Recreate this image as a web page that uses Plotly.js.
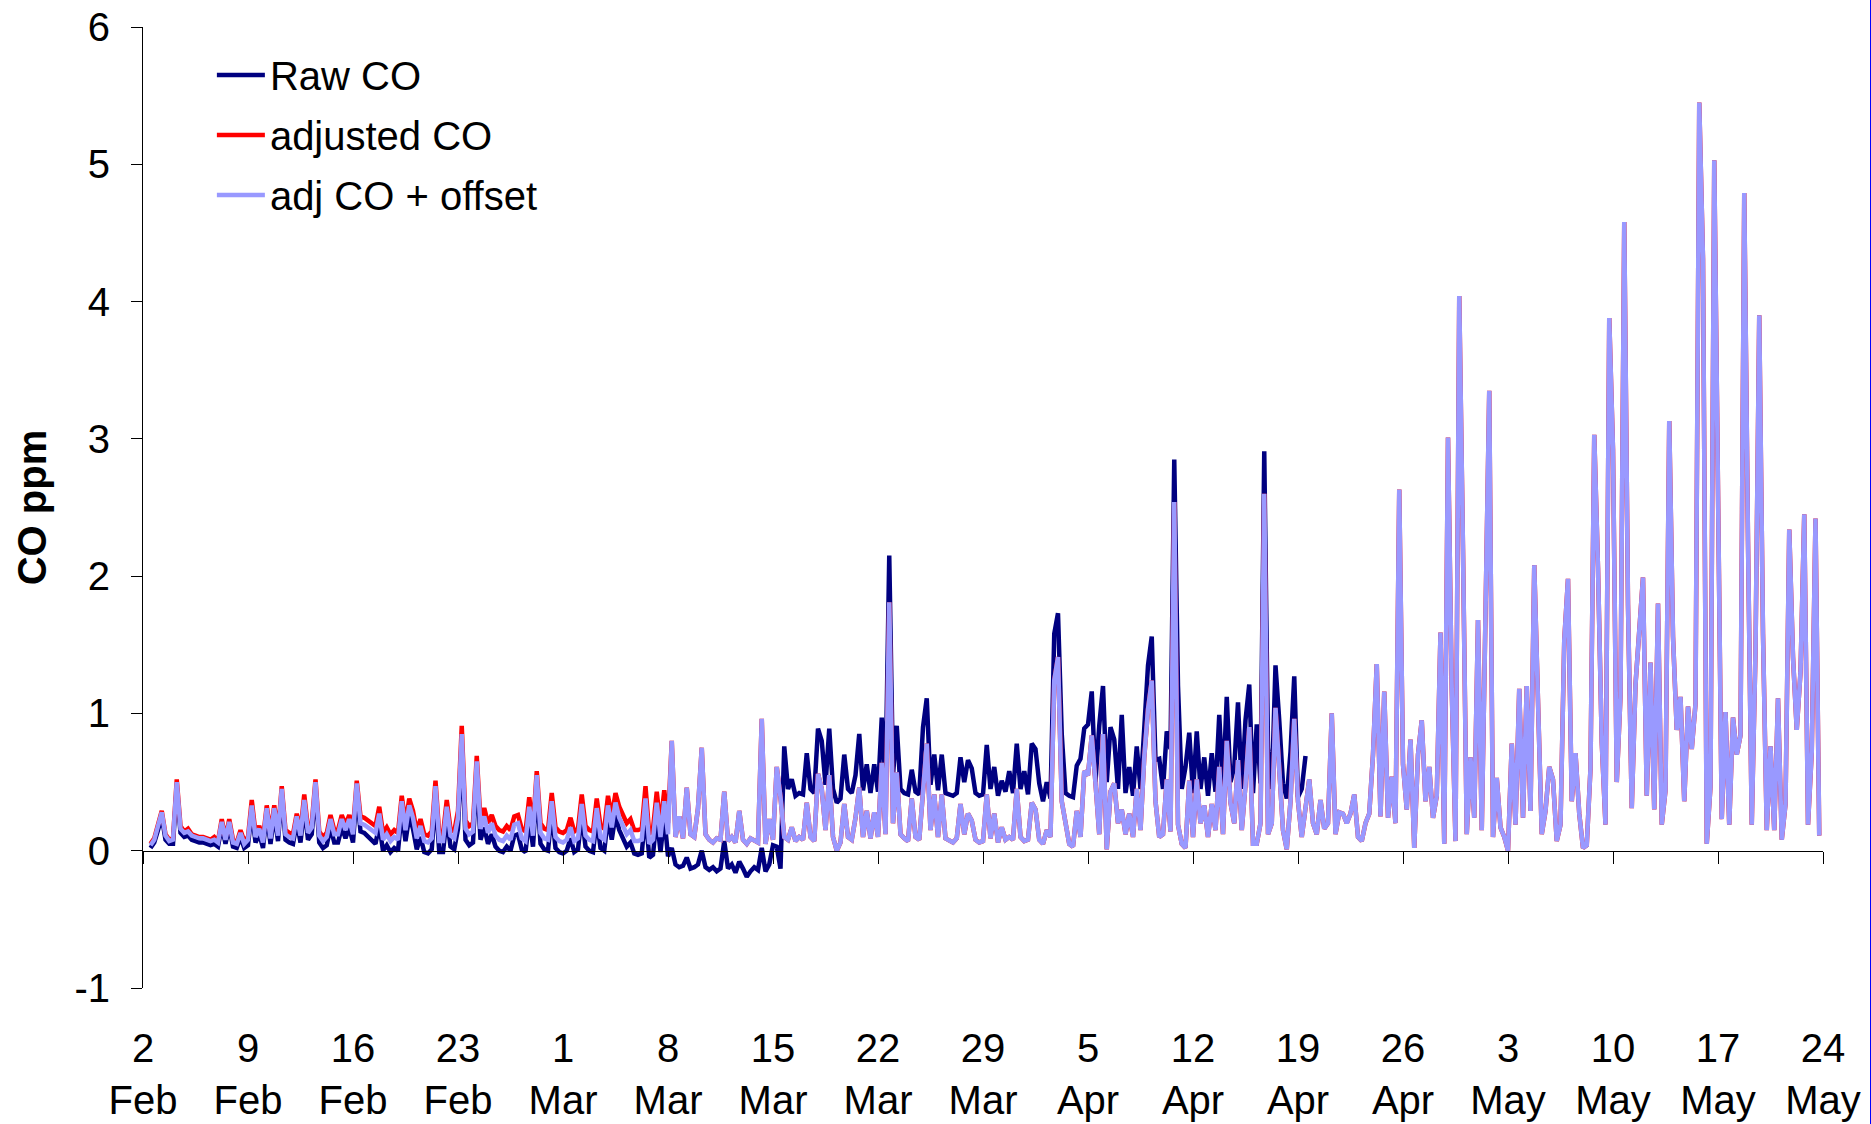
<!DOCTYPE html>
<html>
<head>
<meta charset="utf-8">
<script src="https://cdn.plot.ly/plotly-3.0.1.min.js"></script>
<style>
  html, body { margin: 0; padding: 0; background: #fff; }
  #wrap { position: relative; width: 1871px; height: 1124px; overflow: hidden; }
  #chart { position: absolute; left: 0; top: 0; width: 1871px; height: 1124px; }
  #edge { position: absolute; left: 1870px; top: 0; width: 1px; height: 1124px; background: #0000ff; }
</style>
</head>
<body>
<div id="wrap"><div id="chart"></div><div id="edge"></div></div>
<script>
// CO record, 2008, sampled every 6 hours. First sample: 2 Feb 12:00.
const startDate = Date.UTC(2008, 1, 2);
const firstSampleDay = 0.5;      // days after 2 Feb 00:00
const stepDays = 0.25;           // 6-hour step

// 2 Feb 12:00 - 8 Mar 00:00 : the three series are separate
const rawEarly = [
  0.02, 0.06,                 // 2 Feb
  0.15, 0.25, 0.08, 0.05,     // 3 Feb
  0.05, 0.46, 0.13, 0.10,
  0.11, 0.08, 0.07, 0.06,
  0.06, 0.05, 0.04, 0.05,
  0.03, 0.18, 0.05, 0.18,
  0.03, 0.02, 0.10, 0.02,
  0.04, 0.29, 0.06, 0.12,     // 9 Feb
  0.02, 0.27, 0.05, 0.27,
  0.07, 0.41, 0.08, 0.06,
  0.05, 0.21, 0.06, 0.32,
  0.08, 0.12, 0.45, 0.06,
  0.02, 0.04, 0.17, 0.06,
  0.06, 0.17, 0.09, 0.17,
  0.06, 0.43, 0.14, 0.13,     // 16 Feb
  0.10, 0.08, 0.05, 0.19,
  0.00, 0.04, -0.01, 0.02,
  0.00, 0.28, 0.07, 0.25,
  0.16, 0.01, 0.10, -0.01,
  -0.02, 0.01, 0.39, -0.01,
  -0.01, 0.24, 0.03, 0.01,
  0.16, 0.77, 0.08, 0.04,     // 23 Feb
  0.06, 0.57, 0.08, 0.17,
  0.05, 0.12, 0.03, 0.00,
  -0.01, 0.03, 0.00, 0.11,
  0.12, 0.01, -0.01, 0.24,
  0.03, 0.47, 0.05, 0.01,
  0.00, 0.28, 0.02, -0.01,
  -0.02, 0.00, 0.09, -0.01,   // 1 Mar
  0.01, 0.26, 0.03, 0.00,
  -0.01, 0.23, 0.02, 0.00,
  0.24, 0.08, 0.26, 0.15,
  0.08, 0.03, 0.06, -0.02,
  -0.03, -0.02, 0.28, -0.05,
  -0.03, 0.25, -0.01, 0.25,
  -0.04                       // 8 Mar 00:00
];

const adjEarly = [
  0.05, 0.09,
  0.19, 0.29, 0.12, 0.08,
  0.09, 0.52, 0.18, 0.14,
  0.16, 0.12, 0.11, 0.10,
  0.10, 0.09, 0.08, 0.10,
  0.07, 0.23, 0.09, 0.23,
  0.08, 0.06, 0.15, 0.07,
  0.10, 0.37, 0.13, 0.18,
  0.09, 0.33, 0.12, 0.33,
  0.14, 0.47, 0.15, 0.13,
  0.12, 0.27, 0.14, 0.41,
  0.16, 0.20, 0.52, 0.14,
  0.10, 0.13, 0.26, 0.15,
  0.15, 0.26, 0.19, 0.26,
  0.16, 0.51, 0.25, 0.24,
  0.22, 0.20, 0.18, 0.32,
  0.13, 0.17, 0.12, 0.15,
  0.13, 0.40, 0.20, 0.38,
  0.29, 0.14, 0.23, 0.12,
  0.11, 0.14, 0.51, 0.12,
  0.12, 0.37, 0.16, 0.14,
  0.29, 0.91, 0.22, 0.18,
  0.20, 0.69, 0.22, 0.31,
  0.20, 0.26, 0.18, 0.15,
  0.14, 0.18, 0.15, 0.25,
  0.26, 0.16, 0.14, 0.39,
  0.18, 0.58, 0.20, 0.16,
  0.15, 0.42, 0.17, 0.14,
  0.13, 0.15, 0.24, 0.14,
  0.16, 0.41, 0.18, 0.15,
  0.14, 0.38, 0.18, 0.16,
  0.40, 0.25, 0.42, 0.32,
  0.25, 0.20, 0.23, 0.15,
  0.15, 0.16, 0.47, 0.12,
  0.16, 0.43, 0.18, 0.44,
  0.20
];

const offsetEarly = [
  0.04, 0.08,
  0.18, 0.28, 0.11, 0.07,
  0.08, 0.50, 0.16, 0.13,
  0.14, 0.11, 0.10, 0.09,
  0.09, 0.08, 0.07, 0.08,
  0.06, 0.21, 0.08, 0.21,
  0.06, 0.05, 0.13, 0.05,
  0.08, 0.33, 0.10, 0.16,
  0.06, 0.31, 0.09, 0.31,
  0.11, 0.45, 0.12, 0.10,
  0.09, 0.25, 0.11, 0.37,
  0.13, 0.17, 0.50, 0.11,
  0.07, 0.10, 0.23, 0.12,
  0.12, 0.23, 0.15, 0.23,
  0.12, 0.49, 0.20, 0.19,
  0.17, 0.15, 0.13, 0.27,
  0.08, 0.12, 0.07, 0.10,
  0.08, 0.36, 0.15, 0.33,
  0.24, 0.09, 0.18, 0.07,
  0.06, 0.09, 0.47, 0.07,
  0.07, 0.32, 0.11, 0.09,
  0.24, 0.85, 0.16, 0.12,
  0.14, 0.65, 0.16, 0.25,
  0.13, 0.20, 0.11, 0.08,
  0.07, 0.11, 0.08, 0.19,
  0.20, 0.09, 0.07, 0.32,
  0.11, 0.55, 0.13, 0.09,
  0.08, 0.36, 0.10, 0.07,
  0.06, 0.08, 0.17, 0.07,
  0.09, 0.34, 0.11, 0.08,
  0.07, 0.31, 0.10, 0.08,
  0.33, 0.17, 0.35, 0.24,
  0.17, 0.12, 0.15, 0.07,
  0.07, 0.08, 0.38, 0.05,
  0.08, 0.35, 0.10, 0.36,
  0.12
];

// 8 Mar 06:00 - 23 May 18:00 : adjusted CO and adj CO + offset coincide
const adjLate = [
  0.80, 0.10, 0.25,           // 8 Mar
  0.09, 0.46, 0.12, 0.10,
  0.31, 0.75, 0.12, 0.08,
  0.06, 0.09, 0.08, 0.43,
  0.07, 0.10, 0.06, 0.29,
  0.08, 0.05, 0.09, 0.07,
  0.06, 0.96, 0.05, 0.23,
  0.08, 0.61, 0.39, 0.10,
  0.08, 0.17, 0.07, 0.10,     // 15 Mar
  0.08, 0.35, 0.10, 0.07,
  0.56, 0.45, 0.15, 0.55,
  0.10, 0.00, 0.06, 0.34,
  0.10, 0.08, 0.24, 0.46,
  0.10, 0.29, 0.09, 0.28,
  0.10, 0.64, 0.12, 1.81,
  0.20, 0.57, 0.12, 0.09,     // 22 Mar
  0.07, 0.38, 0.10, 0.08,
  0.41, 0.78, 0.15, 0.41,
  0.10, 0.41, 0.09, 0.07,
  0.06, 0.09, 0.34, 0.12,
  0.27, 0.22, 0.08, 0.06,
  0.07, 0.41, 0.09, 0.27,
  0.06, 0.17, 0.08, 0.10,     // 29 Mar
  0.08, 0.45, 0.10, 0.07,
  0.08, 0.35, 0.30, 0.08,
  0.05, 0.15, 0.10, 1.24,
  1.41, 0.36, 0.20, 0.05,
  0.03, 0.29, 0.10, 0.58,
  0.55, 0.84, 0.49, 0.12,
  0.85, 0.01, 0.43, 0.49,     // 5 Apr
  0.20, 0.30, 0.12, 0.27,
  0.10, 0.45, 0.15, 0.68,
  1.03, 1.24, 0.36, 0.10,
  0.12, 0.52, 0.14, 2.54,
  0.19, 0.05, 0.02, 0.51,
  0.10, 0.52, 0.20, 0.33,
  0.10, 0.34, 0.15, 0.61,     // 12 Apr
  0.12, 0.80, 0.35, 0.20,
  0.66, 0.15, 0.48, 0.90,
  0.05, 0.05, 0.20, 2.60,
  0.12, 0.20, 1.04, 0.63,
  0.15, 0.01, 0.36, 0.96,
  0.36, 0.10, 0.34, 0.52,
  0.20, 0.12, 0.37, 0.16,     // 19 Apr
  0.20, 1.00, 0.12, 0.28,
  0.27, 0.20, 0.27, 0.41,
  0.10, 0.07, 0.20, 0.27,
  0.70, 1.36, 0.25, 1.16,
  0.24, 0.54, 0.20, 2.63,
  0.63, 0.30, 0.81, 0.02,
  0.70, 0.95, 0.36, 0.61,     // 26 Apr
  0.24, 0.40, 1.59, 0.05,
  3.01, 1.18, 0.07, 4.04,
  2.19, 0.12, 0.68, 0.24,
  1.68, 0.15, 1.72, 3.35,
  0.10, 0.53, 0.17, 0.10,
  0.00, 0.78, 0.19, 1.18,
  0.24, 1.20, 0.29, 2.08,     // 3 May
  1.09, 0.12, 0.29, 0.61,
  0.52, 0.07, 0.19, 1.53,
  1.98, 0.36, 0.71, 0.27,
  0.02, 0.04, 0.60, 3.03,
  2.06, 0.79, 0.19, 3.88,
  2.92, 0.50, 1.13, 4.58,
  1.79, 0.31, 1.21, 1.60,     // 10 May
  1.99, 0.40, 1.37, 0.30,
  1.80, 0.19, 0.44, 3.13,
  1.56, 0.88, 1.12, 0.36,
  1.05, 0.74, 1.07, 5.45,
  4.31, 0.05, 0.47, 5.03,
  2.48, 0.23, 1.01, 0.19,
  0.97, 0.70, 0.84, 4.79,     // 17 May
  2.25, 0.19, 1.45, 3.90,
  1.58, 0.15, 0.76, 0.15,
  1.11, 0.08, 0.34, 2.34,
  1.41, 0.88, 1.30, 2.45,
  0.19, 0.72, 2.42, 0.11      // 23 May
];

// raw CO, 8 Mar 06:00 - 19 Apr 12:00
const rawLate = [
  0.02, -0.10, -0.12,
  -0.11, -0.05, -0.13, -0.12,
  -0.10, 0.00, -0.12, -0.14,
  -0.12, -0.15, -0.13, 0.07,
  -0.13, -0.10, -0.16, -0.08,
  -0.13, -0.19, -0.15, -0.12,
  -0.14, 0.02, -0.15, -0.10,
  0.04, 0.03, -0.13, 0.76,
  0.45, 0.52, 0.40, 0.42,     // 15 Mar
  0.41, 0.71, 0.45, 0.42,
  0.89, 0.80, 0.48, 0.89,
  0.45, 0.35, 0.38, 0.70,
  0.45, 0.42, 0.55, 0.85,
  0.44, 0.63, 0.42, 0.63,
  0.43, 0.97, 0.50, 2.15,
  0.55, 0.91, 0.45, 0.42,     // 22 Mar
  0.41, 0.59, 0.43, 0.41,
  0.90, 1.11, 0.48, 0.70,
  0.44, 0.70, 0.42, 0.41,
  0.40, 0.42, 0.68, 0.50,
  0.66, 0.60, 0.42, 0.40,
  0.41, 0.77, 0.45, 0.61,
  0.40, 0.51, 0.43, 0.58,     // 29 Mar
  0.42, 0.78, 0.45, 0.58,
  0.41, 0.78, 0.74, 0.49,
  0.36, 0.50, 0.38, 1.58,
  1.73, 0.85, 0.42, 0.40,
  0.39, 0.62, 0.67, 0.89,
  0.92, 1.16, 0.50, 0.91,
  1.20, 0.50, 0.90, 0.81,     // 5 Apr
  0.45, 0.99, 0.42, 0.61,
  0.40, 0.76, 0.45, 0.89,
  1.35, 1.56, 0.66, 0.67,
  0.45, 0.87, 0.74, 2.85,
  1.20, 0.45, 0.61, 0.86,
  0.42, 0.87, 0.45, 0.68,
  0.40, 0.71, 0.43, 0.99,     // 12 Apr
  0.45, 1.12, 0.50, 0.61,
  1.08, 0.45, 0.95, 1.21,
  0.42, 0.92, 0.49, 2.91,
  0.75, 0.45, 1.35, 0.95,
  0.49, 0.38, 0.72, 1.27,
  0.39, 0.45, 0.69
];

// axis labels
const tickDates = ['2008-02-02', '2008-02-09', '2008-02-16', '2008-02-23', '2008-03-01',
  '2008-03-08', '2008-03-15', '2008-03-22', '2008-03-29', '2008-04-05', '2008-04-12',
  '2008-04-19', '2008-04-26', '2008-05-03', '2008-05-10', '2008-05-17', '2008-05-24'];
const tickDays = ['2', '9', '16', '23', '1', '8', '15', '22', '29', '5', '12', '19', '26', '3', '10', '17', '24'];
const tickMonths = ['Feb', 'Feb', 'Feb', 'Feb', 'Mar', 'Mar', 'Mar', 'Mar', 'Mar',
  'Apr', 'Apr', 'Apr', 'Apr', 'May', 'May', 'May', 'May'];
const yTickValues = [-1, 0, 1, 2, 3, 4, 5, 6];
const yTickLabels = ['-1', '0', '1', '2', '3', '4', '5', '6'];
const seriesNames = ['Raw CO', 'adjusted CO', 'adj CO + offset'];
const seriesColors = ['#000080', '#ff0000', '#9999ff'];

function sampleTimes(n) {
  const out = [];
  for (let i = 0; i < n; i++) {
    const ms = startDate + (firstSampleDay + i * stepDays) * 86400000;
    out.push(new Date(ms).toISOString().slice(0, 16).replace('T', ' '));
  }
  return out;
}

const rawCO = rawEarly.concat(rawLate);
const adjustedCO = adjEarly.concat(adjLate);
const offsetCO = offsetEarly.concat(adjLate);
const seriesValues = [rawCO, adjustedCO, offsetCO];

const FONT = 'Liberation Sans, Arial, Helvetica, sans-serif';
const FS = 40;

const traces = seriesValues.map((vals, k) => ({
  type: 'scatter',
  mode: 'lines',
  name: seriesNames[k],
  legendgroup: 'g' + k,
  x: sampleTimes(vals.length),
  y: vals,
  line: { color: seriesColors[k], width: 4.5 },
  hoverinfo: 'skip'
}));

const layout = {
  width: 1871,
  height: 1124,
  margin: { l: 143, r: 48, t: 27, b: 136, pad: 0 },
  paper_bgcolor: '#ffffff',
  plot_bgcolor: '#ffffff',
  font: { family: FONT, size: FS, color: '#000000' },
  hovermode: false,
  showlegend: true,
  legend: {
    x: 0.041, y: 0.984, xanchor: 'left', yanchor: 'top',
    bgcolor: 'rgba(0,0,0,0)', borderwidth: 0,
    font: { family: FONT, size: FS, color: '#000000' },
    traceorder: 'grouped', tracegroupgap: 5, itemwidth: 48
  },
  xaxis: {
    type: 'date',
    range: ['2008-02-02', '2008-05-24'],
    anchor: 'free',
    position: 1 / 7,
    tickmode: 'array',
    tickvals: tickDates,
    ticktext: tickDays.map((d, i) => d + '<br>' + tickMonths[i]),
    ticks: 'outside', ticklen: 12, tickwidth: 1, tickcolor: '#000000',
    ticklabelstandoff: 150,
    showline: true, linecolor: '#000000', linewidth: 1,
    showgrid: false, zeroline: false,
    tickfont: { family: FONT, size: FS, color: '#000000' },
    fixedrange: true
  },
  yaxis: {
    range: [-1, 6],
    tickmode: 'array',
    tickvals: yTickValues,
    ticktext: yTickLabels,
    ticks: 'outside', ticklen: 11, tickwidth: 1, tickcolor: '#000000',
    ticklabelstandoff: 13,
    showline: true, linecolor: '#000000', linewidth: 1,
    showgrid: false, zeroline: false,
    tickfont: { family: FONT, size: FS, color: '#000000' },
    title: { text: '<b>CO ppm</b>', font: { family: FONT, size: FS, color: '#000000' }, standoff: 15 },
    fixedrange: true
  }
};

Plotly.newPlot('chart', traces, layout, { staticPlot: true, displayModeBar: false });
</script>
</body>
</html>
